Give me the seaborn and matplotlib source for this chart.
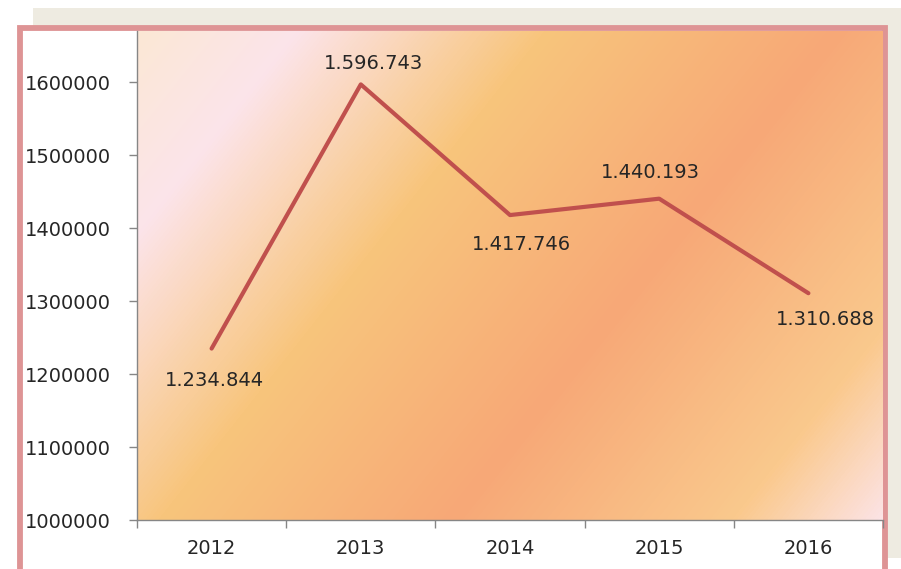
import matplotlib
matplotlib.use("Agg")
import matplotlib.pyplot as plt
from matplotlib.colors import LinearSegmentedColormap
from matplotlib.patches import Rectangle
import seaborn as sns
import pandas as pd
import numpy as np

# data
years = ["2012", "2013", "2014", "2015", "2016"]
values = [1234844, 1596743, 1417746, 1440193, 1310688]
y_ticks = [1000000, 1100000, 1200000, 1300000, 1400000, 1500000, 1600000]

# label offsets (points) so the numbers sit like in the original
label_offsets = [(2, -23), (9, 15), (8, -21), (-6, 19), (12, -19)]

df = pd.DataFrame({"pos": np.arange(len(years)), "value": values})

sns.set_style("white")
plt.rcParams["font.family"] = ["DejaVu Sans"]

W, H = 901, 569
fig = plt.figure(figsize=(W / 100, H / 100), dpi=100)
fig.patch.set_facecolor("white")

# beige page strip behind the frame
fig.patches.append(Rectangle((33 / W, 1 - 558 / H), (W - 33) / W, (558 - 8) / H,
                             transform=fig.transFigure, facecolor="#eeebe1",
                             edgecolor="none", zorder=0))
# pink frame, white inside
fig.patches.append(Rectangle((20 / W, -0.05), (885 - 20) / W, 1.05 - 28 / H,
                             transform=fig.transFigure, facecolor="white",
                             edgecolor="#de9495", linewidth=4.2, zorder=1))

ax = fig.add_axes([137 / W, 49 / H, (883 - 137) / W, (520 - 31) / H])
ax.set_zorder(2)

# diagonal gradient fill of plot area (bands run slightly steeper than 45deg)
cmap = LinearSegmentedColormap.from_list("bg", [
    (0.0, "#fbe8d5"), (0.14, "#fce4ea"), (0.36, "#f8c57c"),
    (0.62, "#f7a877"), (0.87, "#fac98d"), (1.0, "#fce3e5")])
gw, gh = 746, 489
gx, gy = np.meshgrid(np.arange(gw), np.arange(gh))
s = gx + 0.79 * gy
grad = s / s.max()
ax.imshow(grad, cmap=cmap, extent=[0, 1, 0, 1], transform=ax.transAxes,
          aspect="auto", origin="upper", zorder=0, interpolation="bilinear")

sns.lineplot(data=df, x="pos", y="value", color="#c0504d", linewidth=3.0,
             ax=ax, zorder=3)

for i, v in enumerate(values):
    txt = f"{v:,}".replace(",", ".")
    ax.annotate(txt, (i, v), xytext=label_offsets[i], textcoords="offset points",
                ha="center", va="center", fontsize=14, color="#262626", zorder=4)

ax.set_xlim(-0.5, len(years) - 0.5)
ax.set_ylim(1000000, 1669900)
ax.set_yticks(y_ticks)
ax.set_yticklabels([str(t) for t in y_ticks])
ax.set_xticks(np.arange(-0.5, len(years)), labels=[""] * (len(years) + 1))
ax.set_xticks(np.arange(len(years)), labels=years, minor=True)
ax.tick_params(axis="x", which="major", direction="out", length=6, color="#868686",
               width=1, bottom=True)
ax.tick_params(axis="x", which="minor", length=0, pad=14, labelsize=14,
               labelcolor="#262626")
ax.tick_params(axis="y", direction="out", length=6, color="#868686", width=1,
               pad=13, labelsize=14, labelcolor="#262626", left=True)
ax.set_xlabel("")
ax.set_ylabel("")
for side in ["top", "right"]:
    ax.spines[side].set_visible(False)
for side in ["left", "bottom"]:
    ax.spines[side].set_color("#868686")
    ax.spines[side].set_linewidth(1)

fig.savefig("out.png", dpi=100)
